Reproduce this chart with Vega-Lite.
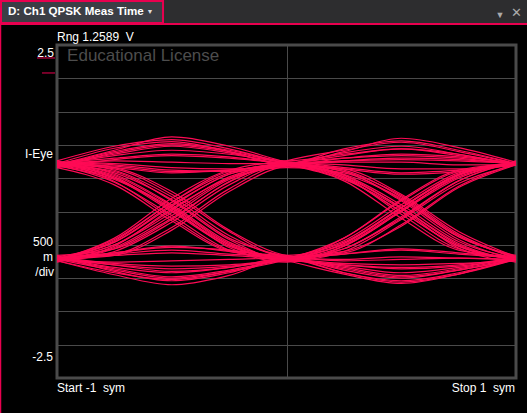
{
"$schema": "https://vega.github.io/schema/vega-lite/v6.json",
"width": 459, "height": 333,
"autosize": "none",
"padding": {"left": 57, "top": 45, "right": 11, "bottom": 35},
"background": "#000000",
"data": {"values": [{}]},
"config": {"view": {"stroke": "#4a4a4a", "strokeWidth": 3},
  "axis": {"labels": false, "ticks": false, "domain": false, "grid": false, "title": null},
  "text": {"font": "Liberation Sans", "fontSize": 12, "color": "#ffffff"}},
"datasets": {"eye": [
{"t":1,"x":-1,"y":0.72},{"t":1,"x":-0.75,"y":0.86},{"t":1,"x":-0.5,"y":0.98},{"t":1,"x":-0.25,"y":0.88},{"t":1,"x":0,"y":0.72},{"t":1,"x":0.25,"y":0.9},{"t":1,"x":0.5,"y":1.1},{"t":1,"x":0.75,"y":0.96},{"t":1,"x":1,"y":0.74},
{"t":2,"x":-1,"y":0.7},{"t":2,"x":-0.75,"y":0.92},{"t":2,"x":-0.5,"y":1.12},{"t":2,"x":-0.25,"y":0.98},{"t":2,"x":0,"y":0.74},{"t":2,"x":0.25,"y":0.55},{"t":2,"x":0.5,"y":0.1},{"t":2,"x":0.75,"y":-0.45},{"t":2,"x":1,"y":-0.7},
{"t":3,"x":-1,"y":0.74},{"t":3,"x":-0.75,"y":0.5},{"t":3,"x":-0.5,"y":0.0},{"t":3,"x":-0.25,"y":-0.52},{"t":3,"x":0,"y":-0.7},{"t":3,"x":0.25,"y":-0.48},{"t":3,"x":0.5,"y":0.05},{"t":3,"x":0.75,"y":0.55},{"t":3,"x":1,"y":0.72},
{"t":4,"x":-1,"y":0.72},{"t":4,"x":-0.75,"y":0.58},{"t":4,"x":-0.5,"y":0.18},{"t":4,"x":-0.25,"y":-0.4},{"t":4,"x":0,"y":-0.68},{"t":4,"x":0.25,"y":-0.84},{"t":4,"x":0.5,"y":-0.96},{"t":4,"x":0.75,"y":-0.86},{"t":4,"x":1,"y":-0.7},
{"t":5,"x":-1,"y":-0.7},{"t":5,"x":-0.75,"y":-0.5},{"t":5,"x":-0.5,"y":0.02},{"t":5,"x":-0.25,"y":0.52},{"t":5,"x":0,"y":0.72},{"t":5,"x":0.25,"y":0.8},{"t":5,"x":0.5,"y":0.84},{"t":5,"x":0.75,"y":0.8},{"t":5,"x":1,"y":0.7},
{"t":6,"x":-1,"y":-0.72},{"t":6,"x":-0.75,"y":-0.42},{"t":6,"x":-0.5,"y":0.14},{"t":6,"x":-0.25,"y":0.6},{"t":6,"x":0,"y":0.7},{"t":6,"x":0.25,"y":0.5},{"t":6,"x":0.5,"y":0.0},{"t":6,"x":0.75,"y":-0.52},{"t":6,"x":1,"y":-0.72},
{"t":7,"x":-1,"y":-0.7},{"t":7,"x":-0.75,"y":-0.86},{"t":7,"x":-0.5,"y":-0.98},{"t":7,"x":-0.25,"y":-0.88},{"t":7,"x":0,"y":-0.7},{"t":7,"x":0.25,"y":-0.5},{"t":7,"x":0.5,"y":0.02},{"t":7,"x":0.75,"y":0.52},{"t":7,"x":1,"y":0.72},
{"t":8,"x":-1,"y":-0.74},{"t":8,"x":-0.75,"y":-0.95},{"t":8,"x":-0.5,"y":-1.1},{"t":8,"x":-0.25,"y":-0.96},{"t":8,"x":0,"y":-0.7},{"t":8,"x":0.25,"y":-0.86},{"t":8,"x":0.5,"y":-0.98},{"t":8,"x":0.75,"y":-0.88},{"t":8,"x":1,"y":-0.72},
{"t":9,"x":-1,"y":0.66},{"t":9,"x":-0.75,"y":0.78},{"t":9,"x":-0.5,"y":0.84},{"t":9,"x":-0.25,"y":0.8},{"t":9,"x":0,"y":0.72},{"t":9,"x":0.25,"y":0.64},{"t":9,"x":0.5,"y":0.56},{"t":9,"x":0.75,"y":0.6},{"t":9,"x":1,"y":0.7},
{"t":10,"x":-1,"y":0.74},{"t":10,"x":-0.75,"y":0.7},{"t":10,"x":-0.5,"y":0.62},{"t":10,"x":-0.25,"y":0.6},{"t":10,"x":0,"y":0.68},{"t":10,"x":0.25,"y":0.48},{"t":10,"x":0.5,"y":0.04},{"t":10,"x":0.75,"y":-0.55},{"t":10,"x":1,"y":-0.76},
{"t":11,"x":-1,"y":0.7},{"t":11,"x":-0.75,"y":0.6},{"t":11,"x":-0.5,"y":0.16},{"t":11,"x":-0.25,"y":-0.42},{"t":11,"x":0,"y":-0.72},{"t":11,"x":0.25,"y":-0.4},{"t":11,"x":0.5,"y":0.18},{"t":11,"x":0.75,"y":0.62},{"t":11,"x":1,"y":0.72},
{"t":12,"x":-1,"y":0.76},{"t":12,"x":-0.75,"y":0.45},{"t":12,"x":-0.5,"y":-0.1},{"t":12,"x":-0.25,"y":-0.58},{"t":12,"x":0,"y":-0.68},{"t":12,"x":0.25,"y":-0.92},{"t":12,"x":0.5,"y":-1.04},{"t":12,"x":0.75,"y":-0.92},{"t":12,"x":1,"y":-0.72},
{"t":13,"x":-1,"y":-0.66},{"t":13,"x":-0.75,"y":-0.56},{"t":13,"x":-0.5,"y":-0.12},{"t":13,"x":-0.25,"y":0.45},{"t":13,"x":0,"y":0.76},{"t":13,"x":0.25,"y":0.92},{"t":13,"x":0.5,"y":1.04},{"t":13,"x":0.75,"y":0.9},{"t":13,"x":1,"y":0.72},
{"t":14,"x":-1,"y":-0.76},{"t":14,"x":-0.75,"y":-0.52},{"t":14,"x":-0.5,"y":0.04},{"t":14,"x":-0.25,"y":0.5},{"t":14,"x":0,"y":0.66},{"t":14,"x":0.25,"y":0.58},{"t":14,"x":0.5,"y":0.18},{"t":14,"x":0.75,"y":-0.38},{"t":14,"x":1,"y":-0.68},
{"t":15,"x":-1,"y":-0.72},{"t":15,"x":-0.75,"y":-0.62},{"t":15,"x":-0.5,"y":-0.52},{"t":15,"x":-0.25,"y":-0.6},{"t":15,"x":0,"y":-0.72},{"t":15,"x":0.25,"y":-0.56},{"t":15,"x":0.5,"y":-0.1},{"t":15,"x":0.75,"y":0.46},{"t":15,"x":1,"y":0.74},
{"t":16,"x":-1,"y":-0.68},{"t":16,"x":-0.75,"y":-0.78},{"t":16,"x":-0.5,"y":-0.82},{"t":16,"x":-0.25,"y":-0.8},{"t":16,"x":0,"y":-0.72},{"t":16,"x":0.25,"y":-0.64},{"t":16,"x":0.5,"y":-0.56},{"t":16,"x":0.75,"y":-0.62},{"t":16,"x":1,"y":-0.7},
{"t":17,"x":-1,"y":0.72},{"t":17,"x":-0.75,"y":0.95},{"t":17,"x":-0.5,"y":1.05},{"t":17,"x":-0.25,"y":0.9},{"t":17,"x":0,"y":0.7},{"t":17,"x":0.25,"y":0.8},{"t":17,"x":0.5,"y":0.86},{"t":17,"x":0.75,"y":0.82},{"t":17,"x":1,"y":0.72},
{"t":18,"x":-1,"y":0.72},{"t":18,"x":-0.75,"y":0.8},{"t":18,"x":-0.5,"y":0.86},{"t":18,"x":-0.25,"y":0.82},{"t":18,"x":0,"y":0.7},{"t":18,"x":0.25,"y":0.46},{"t":18,"x":0.5,"y":-0.1},{"t":18,"x":0.75,"y":-0.58},{"t":18,"x":1,"y":-0.68},
{"t":19,"x":-1,"y":0.68},{"t":19,"x":-0.75,"y":0.48},{"t":19,"x":-0.5,"y":0.04},{"t":19,"x":-0.25,"y":-0.54},{"t":19,"x":0,"y":-0.76},{"t":19,"x":0.25,"y":-0.52},{"t":19,"x":0.5,"y":0.0},{"t":19,"x":0.75,"y":0.5},{"t":19,"x":1,"y":0.74},
{"t":20,"x":-1,"y":0.7},{"t":20,"x":-0.75,"y":0.52},{"t":20,"x":-0.5,"y":0.02},{"t":20,"x":-0.25,"y":-0.5},{"t":20,"x":0,"y":-0.7},{"t":20,"x":0.25,"y":-0.64},{"t":20,"x":0.5,"y":-0.58},{"t":20,"x":0.75,"y":-0.64},{"t":20,"x":1,"y":-0.7},
{"t":21,"x":-1,"y":-0.72},{"t":21,"x":-0.75,"y":-0.4},{"t":21,"x":-0.5,"y":0.2},{"t":21,"x":-0.25,"y":0.62},{"t":21,"x":0,"y":0.74},{"t":21,"x":0.25,"y":0.66},{"t":21,"x":0.5,"y":0.58},{"t":21,"x":0.75,"y":0.62},{"t":21,"x":1,"y":0.7},
{"t":22,"x":-1,"y":-0.7},{"t":22,"x":-0.75,"y":-0.5},{"t":22,"x":-0.5,"y":-0.02},{"t":22,"x":-0.25,"y":0.5},{"t":22,"x":0,"y":0.72},{"t":22,"x":0.25,"y":0.6},{"t":22,"x":0.5,"y":0.16},{"t":22,"x":0.75,"y":-0.42},{"t":22,"x":1,"y":-0.72},
{"t":23,"x":-1,"y":-0.74},{"t":23,"x":-0.75,"y":-0.92},{"t":23,"x":-0.5,"y":-1.02},{"t":23,"x":-0.25,"y":-0.9},{"t":23,"x":0,"y":-0.72},{"t":23,"x":0.25,"y":-0.4},{"t":23,"x":0.5,"y":0.16},{"t":23,"x":0.75,"y":0.6},{"t":23,"x":1,"y":0.7},
{"t":24,"x":-1,"y":-0.7},{"t":24,"x":-0.75,"y":-0.64},{"t":24,"x":-0.5,"y":-0.58},{"t":24,"x":-0.25,"y":-0.64},{"t":24,"x":0,"y":-0.68},{"t":24,"x":0.25,"y":-0.88},{"t":24,"x":0.5,"y":-1.0},{"t":24,"x":0.75,"y":-0.88},{"t":24,"x":1,"y":-0.72},
{"t":25,"x":-1,"y":0.74},{"t":25,"x":-0.75,"y":0.72},{"t":25,"x":-0.5,"y":0.66},{"t":25,"x":-0.25,"y":0.64},{"t":25,"x":0,"y":0.7},{"t":25,"x":0.25,"y":0.94},{"t":25,"x":0.5,"y":1.06},{"t":25,"x":0.75,"y":0.92},{"t":25,"x":1,"y":0.72},
{"t":26,"x":-1,"y":0.66},{"t":26,"x":-0.75,"y":0.88},{"t":26,"x":-0.5,"y":1.0},{"t":26,"x":-0.25,"y":0.9},{"t":26,"x":0,"y":0.72},{"t":26,"x":0.25,"y":0.56},{"t":26,"x":0.5,"y":0.2},{"t":26,"x":0.75,"y":-0.38},{"t":26,"x":1,"y":-0.66},
{"t":27,"x":-1,"y":0.72},{"t":27,"x":-0.75,"y":0.56},{"t":27,"x":-0.5,"y":0.1},{"t":27,"x":-0.25,"y":-0.46},{"t":27,"x":0,"y":-0.7},{"t":27,"x":0.25,"y":-0.56},{"t":27,"x":0.5,"y":-0.08},{"t":27,"x":0.75,"y":0.46},{"t":27,"x":1,"y":0.76},
{"t":28,"x":-1,"y":0.7},{"t":28,"x":-0.75,"y":0.44},{"t":28,"x":-0.5,"y":-0.06},{"t":28,"x":-0.25,"y":-0.58},{"t":28,"x":0,"y":-0.74},{"t":28,"x":0.25,"y":-0.94},{"t":28,"x":0.5,"y":-1.08},{"t":28,"x":0.75,"y":-0.94},{"t":28,"x":1,"y":-0.7},
{"t":29,"x":-1,"y":-0.68},{"t":29,"x":-0.75,"y":-0.46},{"t":29,"x":-0.5,"y":0.08},{"t":29,"x":-0.25,"y":0.56},{"t":29,"x":0,"y":0.7},{"t":29,"x":0.25,"y":0.88},{"t":29,"x":0.5,"y":0.98},{"t":29,"x":0.75,"y":0.86},{"t":29,"x":1,"y":0.7},
{"t":30,"x":-1,"y":-0.72},{"t":30,"x":-0.75,"y":-0.56},{"t":30,"x":-0.5,"y":-0.1},{"t":30,"x":-0.25,"y":0.44},{"t":30,"x":0,"y":0.74},{"t":30,"x":0.25,"y":0.54},{"t":30,"x":0.5,"y":0.06},{"t":30,"x":0.75,"y":-0.48},{"t":30,"x":1,"y":-0.74},
{"t":31,"x":-1,"y":-0.68},{"t":31,"x":-0.75,"y":-0.84},{"t":31,"x":-0.5,"y":-0.92},{"t":31,"x":-0.25,"y":-0.84},{"t":31,"x":0,"y":-0.7},{"t":31,"x":0.25,"y":-0.44},{"t":31,"x":0.5,"y":0.1},{"t":31,"x":0.75,"y":0.58},{"t":31,"x":1,"y":0.72},
{"t":32,"x":-1,"y":-0.72},{"t":32,"x":-0.75,"y":-0.88},{"t":32,"x":-0.5,"y":-1.0},{"t":32,"x":-0.25,"y":-0.9},{"t":32,"x":0,"y":-0.74},{"t":32,"x":0.25,"y":-0.8},{"t":32,"x":0.5,"y":-0.84},{"t":32,"x":0.75,"y":-0.8},{"t":32,"x":1,"y":-0.7},
{"t":33,"x":-1,"y":0.7},{"t":33,"x":-0.75,"y":0.84},{"t":33,"x":-0.5,"y":0.92},{"t":33,"x":-0.25,"y":0.86},{"t":33,"x":0,"y":0.74},{"t":33,"x":0.25,"y":0.7},{"t":33,"x":0.5,"y":0.64},{"t":33,"x":0.75,"y":0.64},{"t":33,"x":1,"y":0.7},
{"t":34,"x":-1,"y":0.74},{"t":34,"x":-0.75,"y":0.62},{"t":34,"x":-0.5,"y":0.22},{"t":34,"x":-0.25,"y":-0.36},{"t":34,"x":0,"y":-0.66},{"t":34,"x":0.25,"y":-0.46},{"t":34,"x":0.5,"y":0.06},{"t":34,"x":0.75,"y":0.56},{"t":34,"x":1,"y":0.7},
{"t":35,"x":-1,"y":-0.7},{"t":35,"x":-0.75,"y":-0.46},{"t":35,"x":-0.5,"y":0.1},{"t":35,"x":-0.25,"y":0.56},{"t":35,"x":0,"y":0.72},{"t":35,"x":0.25,"y":0.52},{"t":35,"x":0.5,"y":-0.04},{"t":35,"x":0.75,"y":-0.56},{"t":35,"x":1,"y":-0.7},
{"t":36,"x":-1,"y":-0.7},{"t":36,"x":-0.75,"y":-0.8},{"t":36,"x":-0.5,"y":-0.9},{"t":36,"x":-0.25,"y":-0.84},{"t":36,"x":0,"y":-0.7},{"t":36,"x":0.25,"y":-0.92},{"t":36,"x":0.5,"y":-1.06},{"t":36,"x":0.75,"y":-0.94},{"t":36,"x":1,"y":-0.72},
{"t":37,"x":-1,"y":0.72},{"t":37,"x":-0.75,"y":0.54},{"t":37,"x":-0.5,"y":0.08},{"t":37,"x":-0.25,"y":-0.48},{"t":37,"x":0,"y":-0.72},{"t":37,"x":0.25,"y":-0.8},{"t":37,"x":0.5,"y":-0.86},{"t":37,"x":0.75,"y":-0.82},{"t":37,"x":1,"y":-0.7},
{"t":38,"x":-1,"y":-0.7},{"t":38,"x":-0.75,"y":-0.54},{"t":38,"x":-0.5,"y":-0.06},{"t":38,"x":-0.25,"y":0.48},{"t":38,"x":0,"y":0.7},{"t":38,"x":0.25,"y":0.84},{"t":38,"x":0.5,"y":0.94},{"t":38,"x":0.75,"y":0.84},{"t":38,"x":1,"y":0.72},
{"t":39,"x":-1,"y":0.72},{"t":39,"x":-0.75,"y":0.76},{"t":39,"x":-0.5,"y":0.74},{"t":39,"x":-0.25,"y":0.72},{"t":39,"x":0,"y":0.72},{"t":39,"x":0.25,"y":0.52},{"t":39,"x":0.5,"y":0.06},{"t":39,"x":0.75,"y":-0.5},{"t":39,"x":1,"y":-0.72},
{"t":40,"x":-1,"y":-0.7},{"t":40,"x":-0.75,"y":-0.66},{"t":40,"x":-0.5,"y":-0.62},{"t":40,"x":-0.25,"y":-0.66},{"t":40,"x":0,"y":-0.7},{"t":40,"x":0.25,"y":-0.52},{"t":40,"x":0.5,"y":0.0},{"t":40,"x":0.75,"y":0.54},{"t":40,"x":1,"y":0.72},
{"t":41,"x":-1,"y":0.68},{"t":41,"x":-0.75,"y":0.9},{"t":41,"x":-0.5,"y":1.02},{"t":41,"x":-0.25,"y":0.92},{"t":41,"x":0,"y":0.76},{"t":41,"x":0.25,"y":0.86},{"t":41,"x":0.5,"y":0.94},{"t":41,"x":0.75,"y":0.86},{"t":41,"x":1,"y":0.7},
{"t":42,"x":-1,"y":0.7},{"t":42,"x":-0.75,"y":0.5},{"t":42,"x":-0.5,"y":0.06},{"t":42,"x":-0.25,"y":-0.5},{"t":42,"x":0,"y":-0.74},{"t":42,"x":0.25,"y":-0.6},{"t":42,"x":0.5,"y":-0.12},{"t":42,"x":0.75,"y":0.42},{"t":42,"x":1,"y":0.7},
{"t":43,"x":-1,"y":-0.74},{"t":43,"x":-0.75,"y":-0.6},{"t":43,"x":-0.5,"y":-0.16},{"t":43,"x":-0.25,"y":0.4},{"t":43,"x":0,"y":0.72},{"t":43,"x":0.25,"y":0.62},{"t":43,"x":0.5,"y":0.22},{"t":43,"x":0.75,"y":-0.36},{"t":43,"x":1,"y":-0.7},
{"t":44,"x":-1,"y":-0.66},{"t":44,"x":-0.75,"y":-0.9},{"t":44,"x":-0.5,"y":-1.04},{"t":44,"x":-0.25,"y":-0.92},{"t":44,"x":0,"y":-0.72},{"t":44,"x":0.25,"y":-0.78},{"t":44,"x":0.5,"y":-0.8},{"t":44,"x":0.75,"y":-0.78},{"t":44,"x":1,"y":-0.74},
{"t":45,"x":-1,"y":0.76},{"t":45,"x":-0.75,"y":0.98},{"t":45,"x":-0.5,"y":1.08},{"t":45,"x":-0.25,"y":0.94},{"t":45,"x":0,"y":0.72},{"t":45,"x":0.25,"y":0.5},{"t":45,"x":0.5,"y":0.0},{"t":45,"x":0.75,"y":-0.52},{"t":45,"x":1,"y":-0.72},
{"t":46,"x":-1,"y":-0.72},{"t":46,"x":-0.75,"y":-0.8},{"t":46,"x":-0.5,"y":-0.86},{"t":46,"x":-0.25,"y":-0.82},{"t":46,"x":0,"y":-0.72},{"t":46,"x":0.25,"y":-0.48},{"t":46,"x":0.5,"y":0.06},{"t":46,"x":0.75,"y":0.56},{"t":46,"x":1,"y":0.74},
{"t":47,"x":-1,"y":0.66},{"t":47,"x":-0.75,"y":0.4},{"t":47,"x":-0.5,"y":-0.14},{"t":47,"x":-0.25,"y":-0.6},{"t":47,"x":0,"y":-0.7},{"t":47,"x":0.25,"y":-0.82},{"t":47,"x":0.5,"y":-0.92},{"t":47,"x":0.75,"y":-0.84},{"t":47,"x":1,"y":-0.68},
{"t":48,"x":-1,"y":-0.72},{"t":48,"x":-0.75,"y":-0.44},{"t":48,"x":-0.5,"y":0.14},{"t":48,"x":-0.25,"y":0.58},{"t":48,"x":0,"y":0.72},{"t":48,"x":0.25,"y":0.76},{"t":48,"x":0.5,"y":0.78},{"t":48,"x":0.75,"y":0.76},{"t":48,"x":1,"y":0.72},
{"t":49,"x":-1,"y":0.72},{"t":49,"x":-0.75,"y":0.68},{"t":49,"x":-0.5,"y":0.6},{"t":49,"x":-0.25,"y":0.62},{"t":49,"x":0,"y":0.7},{"t":49,"x":0.25,"y":0.76},{"t":49,"x":0.5,"y":0.8},{"t":49,"x":0.75,"y":0.78},{"t":49,"x":1,"y":0.72},
{"t":50,"x":-1,"y":-0.72},{"t":50,"x":-0.75,"y":-0.76},{"t":50,"x":-0.5,"y":-0.74},{"t":50,"x":-0.25,"y":-0.72},{"t":50,"x":0,"y":-0.7},{"t":50,"x":0.25,"y":-0.72},{"t":50,"x":0.5,"y":-0.68},{"t":50,"x":0.75,"y":-0.7},{"t":50,"x":1,"y":-0.72},
{"t":51,"x":-1,"y":0.72},{"t":51,"x":-0.75,"y":0.64},{"t":51,"x":-0.5,"y":0.26},{"t":51,"x":-0.25,"y":-0.3},{"t":51,"x":0,"y":-0.68},{"t":51,"x":0.25,"y":-0.62},{"t":51,"x":0.5,"y":-0.2},{"t":51,"x":0.75,"y":0.38},{"t":51,"x":1,"y":0.72},
{"t":52,"x":-1,"y":-0.7},{"t":52,"x":-0.75,"y":-0.64},{"t":52,"x":-0.5,"y":-0.24},{"t":52,"x":-0.25,"y":0.34},{"t":52,"x":0,"y":0.7},{"t":52,"x":0.25,"y":0.64},{"t":52,"x":0.5,"y":0.26},{"t":52,"x":0.75,"y":-0.3},{"t":52,"x":1,"y":-0.68},
{"t":53,"x":-1,"y":0.7},{"t":53,"x":-0.75,"y":0.66},{"t":53,"x":-0.5,"y":0.58},{"t":53,"x":-0.25,"y":0.62},{"t":53,"x":0,"y":0.7},{"t":53,"x":0.25,"y":0.6},{"t":53,"x":0.5,"y":0.24},{"t":53,"x":0.75,"y":-0.34},{"t":53,"x":1,"y":-0.7},
{"t":54,"x":-1,"y":-0.7},{"t":54,"x":-0.75,"y":-0.62},{"t":54,"x":-0.5,"y":-0.54},{"t":54,"x":-0.25,"y":-0.58},{"t":54,"x":0,"y":-0.68},{"t":54,"x":0.25,"y":-0.6},{"t":54,"x":0.5,"y":-0.22},{"t":54,"x":0.75,"y":0.36},{"t":54,"x":1,"y":0.7},
{"t":55,"x":-1,"y":0.74},{"t":55,"x":-0.75,"y":0.66},{"t":55,"x":-0.5,"y":0.3},{"t":55,"x":-0.25,"y":-0.28},{"t":55,"x":0,"y":-0.66},{"t":55,"x":0.25,"y":-0.74},{"t":55,"x":0.5,"y":-0.72},{"t":55,"x":0.75,"y":-0.7},{"t":55,"x":1,"y":-0.72},
{"t":56,"x":-1,"y":-0.72},{"t":56,"x":-0.75,"y":-0.66},{"t":56,"x":-0.5,"y":-0.28},{"t":56,"x":-0.25,"y":0.3},{"t":56,"x":0,"y":0.68},{"t":56,"x":0.25,"y":0.74},{"t":56,"x":0.5,"y":0.74},{"t":56,"x":0.75,"y":0.7},{"t":56,"x":1,"y":0.7}
]},
"layer": [
{"data": {"name": "eye"},
 "mark": {"type": "line", "interpolate": "monotone", "color": "#ff0a55", "strokeWidth": 1.2},
 "encoding": {
  "x": {"field": "x", "type": "quantitative", "scale": {"domain": [-1, 1], "nice": false, "zero": false},
        "axis": {"values": [0], "grid": true, "gridColor": "#4a4a4a", "gridOpacity": 1, "gridWidth": 1, "labels": false, "ticks": false, "domain": false, "title": null}},
  "y": {"field": "y", "type": "quantitative", "scale": {"domain": [-2.5, 2.5], "nice": false, "zero": false},
        "axis": {"values": [-2, -1.5, -1, -0.5, 0, 0.5, 1, 1.5, 2], "grid": true, "gridColor": "#4a4a4a", "gridOpacity": 1, "gridWidth": 1, "labels": false, "ticks": false, "domain": false, "title": null}},
  "detail": {"field": "t", "type": "nominal"}
 }},
{"mark": {"type": "rect", "fill": "#2d2d2f"},
 "encoding": {"x": {"datum": -1.25, "type": "quantitative"}, "x2": {"datum": 1.05}, "y": {"datum": 3.18, "type": "quantitative"}, "y2": {"datum": 2.815}}},
{"mark": {"type": "rect", "fill": "#3b3e45", "stroke": "#e8004f", "strokeWidth": 2},
 "encoding": {"x": {"datum": -1.244, "type": "quantitative"}, "x2": {"datum": -0.538}, "y": {"datum": 3.16, "type": "quantitative"}, "y2": {"datum": 2.83}}},
{"mark": {"type": "rule", "color": "#e8004f", "strokeWidth": 2},
 "encoding": {"x": {"datum": -1.25, "type": "quantitative"}, "x2": {"datum": 1.05}, "y": {"datum": 2.815, "type": "quantitative"}}},
{"mark": {"type": "rule", "color": "#e8004f", "strokeWidth": 1.5},
 "encoding": {"x": {"datum": -1.2462, "type": "quantitative"}, "y": {"datum": 2.815, "type": "quantitative"}, "y2": {"datum": -3.03}}},
{"mark": {"type": "text", "align": "left", "baseline": "middle", "fontWeight": "bold", "fontSize": 11.6, "text": "D: Ch1 QPSK Meas Time"},
 "encoding": {"x": {"datum": -1.2135, "type": "quantitative"}, "y": {"datum": 2.99, "type": "quantitative"}}},
{"mark": {"type": "text", "align": "center", "baseline": "middle", "fontSize": 7, "color": "#dddddd", "text": "▼"},
 "encoding": {"x": {"datum": -0.5948, "type": "quantitative"}, "y": {"datum": 3.0, "type": "quantitative"}}},
{"mark": {"type": "text", "align": "center", "baseline": "middle", "fontSize": 9, "color": "#aaaaaa", "text": "▼"},
 "encoding": {"x": {"datum": 0.9303, "type": "quantitative"}, "y": {"datum": 2.955, "type": "quantitative"}}},
{"mark": {"type": "text", "align": "center", "baseline": "middle", "fontSize": 13, "color": "#aaaaaa", "text": "✕"},
 "encoding": {"x": {"datum": 1.0, "type": "quantitative"}, "y": {"datum": 2.985, "type": "quantitative"}}},
{"mark": {"type": "text", "align": "left", "baseline": "middle", "text": "Rng 1.2589\u00a0\u00a0V"},
 "encoding": {"x": {"datum": -1.0, "type": "quantitative"}, "y": {"datum": 2.62, "type": "quantitative"}}},
{"mark": {"type": "text", "align": "left", "baseline": "middle", "fontSize": 17, "color": "#4d4d4d", "text": "Educational License"},
 "encoding": {"x": {"datum": -0.956, "type": "quantitative"}, "y": {"datum": 2.335, "type": "quantitative"}}},
{"mark": {"type": "text", "align": "right", "baseline": "middle", "text": "2.5"},
 "encoding": {"x": {"datum": -1.0131, "type": "quantitative"}, "y": {"datum": 2.385, "type": "quantitative"}}},
{"mark": {"type": "rule", "color": "#e8004f", "strokeWidth": 1},
 "encoding": {"x": {"datum": -1.0871, "type": "quantitative"}, "x2": {"datum": -1.0087}, "y": {"datum": 2.305, "type": "quantitative"}}},
{"mark": {"type": "rule", "color": "#e8004f", "strokeWidth": 1},
 "encoding": {"x": {"datum": -1.0654, "type": "quantitative"}, "x2": {"datum": -1.0087}, "y": {"datum": 2.08, "type": "quantitative"}}},
{"mark": {"type": "text", "align": "right", "baseline": "middle", "text": "I-Eye"},
 "encoding": {"x": {"datum": -1.0175, "type": "quantitative"}, "y": {"datum": 0.8634, "type": "quantitative"}}},
{"mark": {"type": "text", "align": "right", "baseline": "middle", "text": "500"},
 "encoding": {"x": {"datum": -1.0175, "type": "quantitative"}, "y": {"datum": -0.458, "type": "quantitative"}}},
{"mark": {"type": "text", "align": "right", "baseline": "middle", "text": "m"},
 "encoding": {"x": {"datum": -1.0175, "type": "quantitative"}, "y": {"datum": -0.6832, "type": "quantitative"}}},
{"mark": {"type": "text", "align": "right", "baseline": "middle", "text": "/div"},
 "encoding": {"x": {"datum": -1.0131, "type": "quantitative"}, "y": {"datum": -0.9084, "type": "quantitative"}}},
{"mark": {"type": "text", "align": "right", "baseline": "middle", "text": "-2.5"},
 "encoding": {"x": {"datum": -1.0175, "type": "quantitative"}, "y": {"datum": -2.1847, "type": "quantitative"}}},
{"mark": {"type": "text", "align": "left", "baseline": "middle", "text": "Start -1\u00a0\u00a0sym"},
 "encoding": {"x": {"datum": -1.0, "type": "quantitative"}, "y": {"datum": -2.65, "type": "quantitative"}}},
{"mark": {"type": "text", "align": "right", "baseline": "middle", "text": "Stop 1\u00a0\u00a0sym"},
 "encoding": {"x": {"datum": 0.9956, "type": "quantitative"}, "y": {"datum": -2.65, "type": "quantitative"}}}
]
}
